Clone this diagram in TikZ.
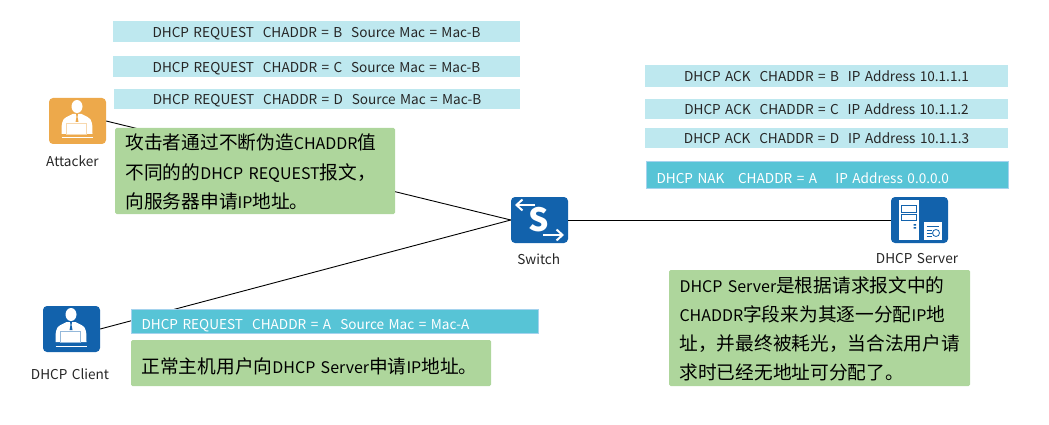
\documentclass[tikz,border=0pt]{standalone}
\usepackage{fontspec}
\setmainfont[WordSpace=1.45]{Noto Sans CJK SC}
\usetikzlibrary{arrows.meta}

\definecolor{lightcyan}{HTML}{BEE8EF}
\definecolor{tealcyan}{HTML}{57C4D6}
\definecolor{edgeblue}{HTML}{A5D3EE}
\definecolor{notegreen}{HTML}{AED69C}
\definecolor{iconblue}{HTML}{1262AC}
\definecolor{iconorange}{HTML}{EDA94B}
\definecolor{inkgray}{HTML}{262626}

% Chinese runs in the notes are larger than the Latin ones
\newcommand{\hz}[1]{{\fontsize{18.7}{18.7}\selectfont #1}}

\tikzset{
  iconbox/.style={fill=#1, rounded corners=4pt, minimum width=57pt, minimum height=46pt, inner sep=0pt},
  msgbox/.style={fill=lightcyan, text=inkgray, inner sep=0pt, text height=11.5pt, text depth=0pt, font=\fontsize{13.6}{15}\selectfont},
  tealbox/.style={fill=tealcyan, draw=edgeblue, text=white, inner xsep=10pt, inner ysep=0pt, align=left, text height=17pt, text depth=0pt, font=\fontsize{13.6}{15}\selectfont},
  notebox/.style={fill=notegreen, text=black, rounded corners=1.5pt, inner xsep=10.5pt, inner ysep=0pt, align=left},
  iconlabel/.style={text=inkgray, inner sep=0pt, font=\fontsize{13.6}{15}\selectfont},
  pics/persona/.style={code={
    \fill[white] (-0.5,-14.5) ellipse [x radius=5.5, y radius=6.5];
    \fill[white] (-16,13) .. controls (-16,4) and (-16,-2) .. (-11,-4) -- (-5,-7) -- (4,-7) -- (10,-4) .. controls (15,-2) and (15,4) .. (15,13) -- cycle;
    \fill[#1] (-1.5,-7) -- (0.5,-7) -- (0,-4) -- (1,1) -- (-2,1) -- (-1,-4) -- cycle;
    \draw[#1!45!white, fill=white, line width=0.8pt] (-11,2) rectangle (9,13);
    \draw[#1, line width=0.6pt] (-15,14.5) -- (14,14.5);
    \draw[white, line width=1pt] (-16,17) -- (15,17);
  }},
  pics/switchmark/.style={code={
    \node[text=white, inner sep=0pt, font=\fontsize{32}{32}\bfseries\selectfont] (smark) at (-0.5,0) {S};
    \draw[white, line width=2pt, -{Straight Barb[length=6pt,width=11pt]}] (-4.5,-15) -- (-24.5,-15);
    \draw[white, line width=2pt, -{Straight Barb[length=6pt,width=11pt]}] (3.5,15) -- (24.5,15);
  }},
  pics/servermark/.style={code={
    \fill[white] (-20.5,-20) rectangle (-1,19.5);
    \draw[iconblue, line width=1pt] (-18,-14.5) rectangle (-3.5,-7.5);
    \draw[iconblue, line width=1pt] (-18,-5.5) rectangle (-3.5,0.5);
    \fill[iconblue] (-6,4) rectangle (-3.5,5.5) (-6,7) rectangle (-3.5,8.5);
    \fill[white] (4,2) rectangle (22,20);
    \draw[iconblue, line width=0.8pt] (7,6) -- (19,6) (7,10) -- (12,10) (7,13) -- (12,13) (7,16) -- (12,16);
    \draw[iconblue, line width=0.8pt] (16.5,13) circle (3.5);
  }}
}

\begin{document}
\begin{tikzpicture}[x=1pt,y=-1pt]
\useasboundingbox (0,0) rectangle (1049,425);

% devices
\node[iconbox=iconorange] (attacker) at (77.5,121) {};
\node[iconbox=iconblue] (client) at (71.5,329) {};
\node[iconbox=iconblue] (switch) at (539.5,220) {};
\node[iconbox=iconblue] (server) at (919.5,220) {};
\pic at (attacker) {persona=iconorange};
\pic at (client) {persona=iconblue};
\pic at (switch) {switchmark};
\pic at (server) {servermark};
\node[iconlabel] (attackername) at (72.4,161) {Attacker};
\node[iconlabel] (clientname) at (70,374) {DHCP Client};
\node[iconlabel] (switchname) at (538.7,259) {Switch};
\node[iconlabel] (servername) at (917,259) {DHCP Server};

% links, the text boxes below sit on top of them
\draw[black, line width=0.9pt] (attacker.east) -- (switch.west);
\draw[black, line width=0.9pt] (client.east) -- (switch.west);
\draw[black, line width=0.9pt] (switch.east) -- (server.west);

% requests sent by the attacker
\node[msgbox, minimum width=407pt, minimum height=21pt] (reqb) at (316.5,31.5) {DHCP REQUEST\ \ CHADDR = B\ \ Source Mac = Mac-B};
\node[msgbox, minimum width=407pt, minimum height=21pt] (reqc) at (316.5,66.5) {DHCP REQUEST\ \ CHADDR = C\ \ Source Mac = Mac-B};
\node[msgbox, minimum width=406pt, minimum height=20pt] (reqd) at (317,99) {DHCP REQUEST\ \ CHADDR = D\ \ Source Mac = Mac-B};

% replies from the server
\node[msgbox, minimum width=363pt, minimum height=22pt] (ackb) at (826.5,76) {DHCP ACK\ \ CHADDR = B\ \ IP Address 10.1.1.1};
\node[msgbox, minimum width=363pt, minimum height=20pt] (ackc) at (826.5,109) {DHCP ACK\ \ CHADDR = C\ \ IP Address 10.1.1.2};
\node[msgbox, minimum width=363pt, minimum height=20pt] (ackd) at (826.5,138) {DHCP ACK\ \ CHADDR = D\ \ IP Address 10.1.1.3};
\node[tealbox, text width=342pt, minimum height=27pt] (nak) at (827.5,174.5) {DHCP NAK\ \ \ CHADDR = A\ \ \ \ IP Address 0.0.0.0};

% request of the normal host
\node[tealbox, text width=387pt, minimum height=24pt] (reqa) at (335,321) {DHCP REQUEST\ \ CHADDR = A\ \ Source Mac = Mac-A};

% notes
\node[notebox, minimum width=280pt, minimum height=86pt, text width=259pt, text depth=58pt, font=\fontsize{16}{29.5}\selectfont] (attackernote) at (255,171) {\hz{攻击者通过不断伪造}CHADDR\hz{值}\\\hz{不同的的}DHCP REQUEST\hz{报文，}\\\hz{向服务器申请}IP\hz{地址。}};
\node[notebox, minimum width=360pt, minimum height=46pt, text width=339pt, text depth=0pt, text height=20pt, font=\fontsize{16}{20}\selectfont] (clientnote) at (311,363) {\hz{正常主机用户向}DHCP Server\hz{申请}IP\hz{地址。}};
\node[notebox, minimum width=301pt, minimum height=116pt, text width=280pt, text depth=86pt, font=\fontsize{16}{29}\selectfont] (servernote) at (819.5,328) {DHCP Server\hz{是根据请求报文中的}\\CHADDR\hz{字段来为其逐一分配}IP\hz{地}\\\hz{址，并最终被耗光，当合法用户请}\\\hz{求时已经无地址可分配了。}};
\end{tikzpicture}
\end{document}
